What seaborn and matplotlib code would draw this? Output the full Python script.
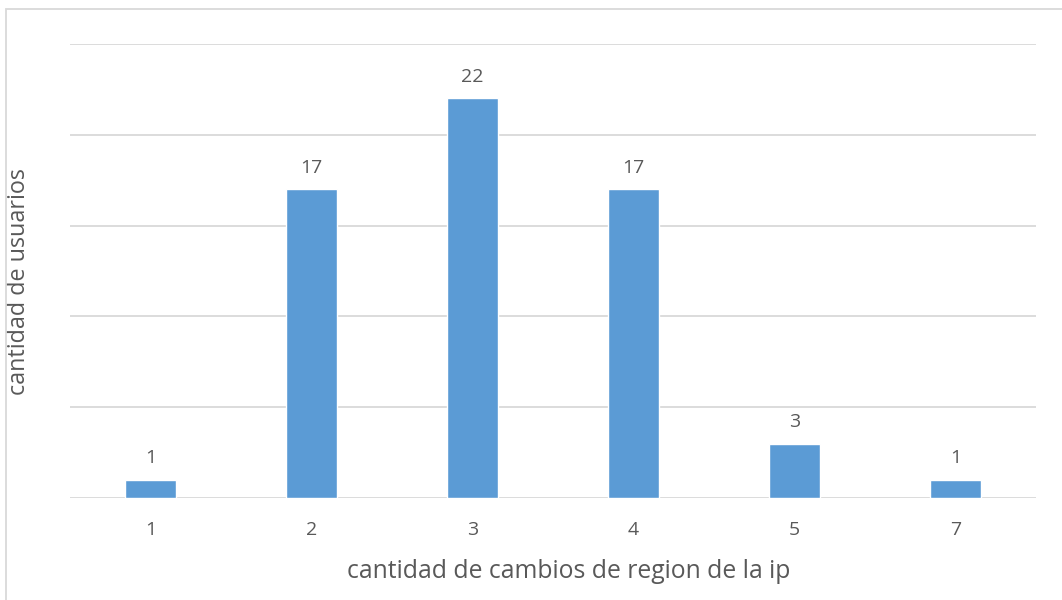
import matplotlib
matplotlib.use("Agg")
import matplotlib.pyplot as plt
import seaborn as sns
import pandas as pd
from matplotlib.patches import Rectangle

# Number of region changes of the IP vs. number of users
cambios = ["1", "2", "3", "4", "5", "7"]
usuarios = [1, 17, 22, 17, 3, 1]

df = pd.DataFrame({"cambios": cambios, "usuarios": usuarios})

sns.set_style("white")
plt.rcParams["font.family"] = ["Open Sans", "DejaVu Sans"]

text_color = "#595959"
bar_color = "#5B9BD5"
grid_color = "#D9D9D9"

W, H = 1062, 600
fig = plt.figure(figsize=(W / 100, H / 100), dpi=100)
ax = fig.add_axes([70 / W, 1 - 498 / H, (1036 - 70) / W, (498 - 44) / H])

sns.barplot(data=df, x="cambios", y="usuarios", order=cambios,
            color=bar_color, saturation=1, width=0.317, ax=ax, zorder=3)

ax.set_ylim(0, 25)
ax.set_xlim(-0.5, len(cambios) - 0.5)
ax.set_yticks([0, 5, 10, 15, 20, 25])
ax.yaxis.grid(True, color=grid_color, linewidth=1.3)
ax.set_axisbelow(True)
ax.tick_params(axis="y", left=False, labelleft=False)
ax.tick_params(axis="x", bottom=False, labelsize=14, colors=text_color, pad=13)
for s in ax.spines.values():
    s.set_visible(False)

for container in ax.containers:
    ax.bar_label(container, labels=[str(v) for v in usuarios], padding=9,
                 fontsize=14, color=text_color)

ax.set_xlabel("cantidad de cambios de region de la ip", fontsize=17.8,
              color=text_color)
ax.set_ylabel("cantidad de usuarios", fontsize=16.8, color=text_color)
ax.xaxis.set_label_coords((569 - 70) / (1036 - 70), -(572 - 498) / (498 - 44),
                          transform=ax.transAxes)
ax.xaxis.label.set_va("center")
ax.yaxis.set_label_coords(-(70 - 19) / (1036 - 70), (498 - 282) / (498 - 44),
                          transform=ax.transAxes)
ax.yaxis.label.set_va("center")

# chart area frame
fig.patches.append(Rectangle((6 / W, -0.05), 1.2, 1 - 9 / H + 0.05,
                             transform=fig.transFigure, fill=False,
                             edgecolor="#D9D9D9", linewidth=1.3))

fig.savefig("out.png", dpi=100)
